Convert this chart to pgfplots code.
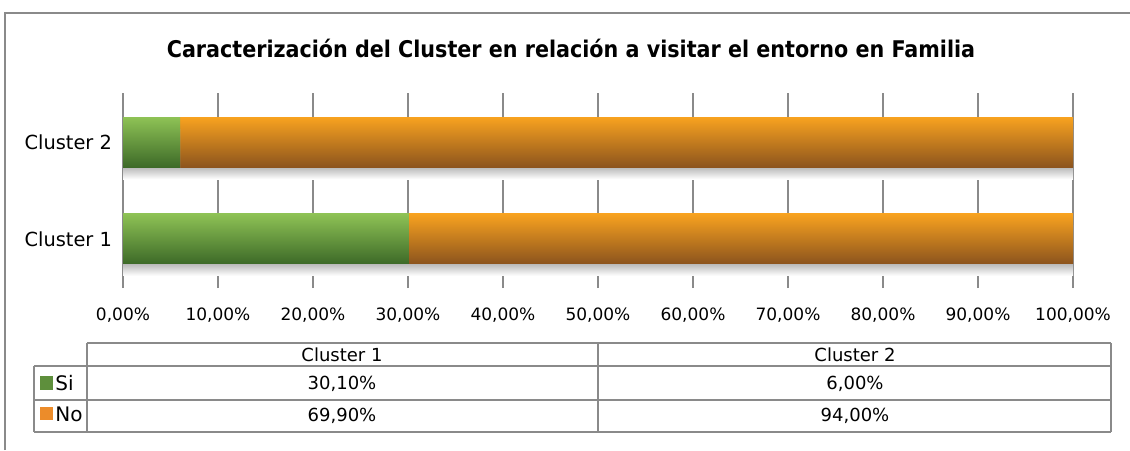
\documentclass[border=0pt]{standalone}
\usepackage{fontspec}
\setmainfont{DejaVu Sans}
\newfontfamily\condfont{DejaVu Sans Condensed}
\usepackage{pgfplots}
\pgfplotsset{compat=1.18}
\usetikzlibrary{shadows}
\definecolor{gtop}{HTML}{8EC255}
\definecolor{gbot}{HTML}{3D6A28}
\definecolor{otop}{HTML}{F8A21F}
\definecolor{obot}{HTML}{8C541E}
\definecolor{gkey}{HTML}{5E8F3C}
\definecolor{okey}{HTML}{EC8C2A}
\definecolor{lin}{HTML}{8A8A8A}
\pgfdeclareverticalshading{barshadow}{100bp}{color(0bp)=(white); color(25bp)=(white); color(38bp)=(black!30); color(100bp)=(black!30)}
\pgfplotsset{
  base/.style={
    at={(AO)}, anchor=south west,
    scale only axis, width=475pt, height=97.5pt,
    xbar stacked, bar width=25pt,
    xmin=0, xmax=100, ymin=0.49, ymax=2.51,
    axis line style={draw=none}, major tick style={draw=none},
    clip=false,
  },
  shad/.style={drop shadow={shadow xshift=0pt, shadow yshift=-6pt, opacity=1, shading=barshadow}},
  si/.style={draw=none, top color=gtop, bottom color=gbot, shad},
  no/.style={draw=none, top color=otop, bottom color=obot, shad},
}
\begin{document}
\begin{tikzpicture}
\begin{scope}[x=0.5pt,y=-0.5pt]
\path[use as bounding box] (0,0) rectangle (1130,450);
\draw[lin, line width=1pt] (5,450) -- (5,13) -- (1130,13);
\node[font=\condfont\bfseries\fontsize{11.5}{13}\selectfont] at (571,48) {Caracterización del Cluster en relación a visitar el entorno en Familia};
\coordinate (AO) at (123,288);
\end{scope}
% Cluster 1
\begin{axis}[base,
  xtick={0,10,...,100},
  xticklabels={{0,00\%},{10,00\%},{20,00\%},{30,00\%},{40,00\%},{50,00\%},{60,00\%},{70,00\%},{80,00\%},{90,00\%},{100,00\%}},
  ytick={1,2}, yticklabels={Cluster 1,Cluster 2},
  xmajorgrids, grid style={lin, line width=0.8pt},
  xticklabel style={font=\fontsize{8.5}{10}\selectfont, yshift=-6.5pt},
  yticklabel style={font=\fontsize{9.7}{11}\selectfont, xshift=-2pt},
]
\addplot[si] coordinates {(30.1,1)};
\addplot[no] coordinates {(69.9,1)};
\end{axis}
% Cluster 2
\begin{axis}[base, xtick=\empty, ytick=\empty]
\addplot[si] coordinates {(6.0,2)};
\addplot[no] coordinates {(94.0,2)};
\end{axis}
\begin{scope}[x=0.5pt,y=-0.5pt]
\draw[lin, line width=1pt] (87,343) -- (1111,343);
\draw[lin, line width=1pt] (34,366) -- (1111,366);
\draw[lin, line width=1pt] (34,400) -- (1111,400);
\draw[lin, line width=1pt] (34,432) -- (1111,432);
\draw[lin, line width=1pt] (34,366) -- (34,432);
\draw[lin, line width=1pt] (87,343) -- (87,432);
\draw[lin, line width=1pt] (598,343) -- (598,432);
\draw[lin, line width=1pt] (1111,343) -- (1111,432);
\begin{scope}[every node/.style={font=\fontsize{9}{11}\selectfont, inner sep=0pt}]
\node at (342,355) {Cluster 1};
\node at (855,355) {Cluster 2};
\node at (342,384) {30,10\%};
\node at (855,384) {6,00\%};
\node at (342,416) {69,90\%};
\node at (855,416) {94,00\%};
\end{scope}
\fill[gkey] (40,376) rectangle (53,390);
\fill[okey] (40,407) rectangle (53,420);
\node[anchor=west, inner sep=0pt, font=\fontsize{10}{12}\selectfont] at (55,383) {Si};
\node[anchor=west, inner sep=0pt, font=\fontsize{10}{12}\selectfont] at (55,414) {No};
\end{scope}
\end{tikzpicture}
\end{document}
